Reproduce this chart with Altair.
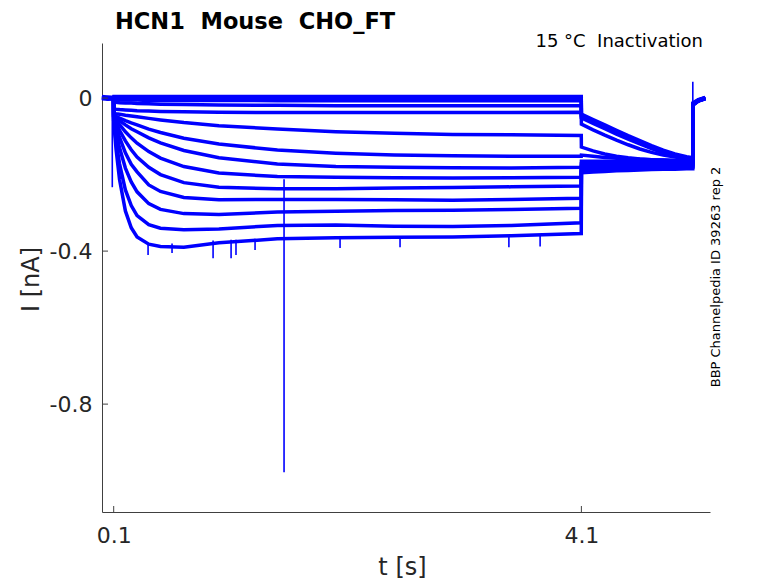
import altair as alt
import pandas as pd

# time base (s)
t_s = [0.0, 0.05, 0.099, 0.1, 0.12, 0.15, 0.2, 0.25, 0.3, 0.4, 0.5, 0.7, 1.0, 1.5,
       2.0, 2.5, 3.0, 3.5, 4.099, 4.1, 4.2, 4.3, 4.4, 4.5, 4.6, 4.7, 4.8, 4.9, 5.0,
       5.053, 5.054, 5.1, 5.16]

# current traces (nA)
I_01 = [0.004, 0.002, 0.003,
        0.004, 0.004, 0.004, 0.004, 0.004, 0.004, 0.004, 0.004, 0.004, 0.004, 0.004, 0.004, 0.004, 0.004, 0.004, 0.004,
        -0.042, -0.056, -0.07, -0.084, -0.098, -0.111, -0.124, -0.136, -0.146, -0.153, -0.156,
        -0.012, -0.004, 0.002]
I_02 = [0.001, 0.0, 0.0,
        0.0, 0.0, 0.0, 0.0, 0.0, 0.0, 0.0, 0.0, 0.0, 0.0, 0.0, 0.0, 0.0, 0.0, 0.0, 0.0,
        -0.045, -0.059, -0.073, -0.087, -0.101, -0.114, -0.127, -0.139, -0.149, -0.156, -0.159,
        -0.014, -0.006, 0.0]
I_03 = [0.0, -0.002, -0.001,
        -0.004, -0.004, -0.005, -0.005, -0.005, -0.005, -0.006, -0.006, -0.006, -0.006, -0.007, -0.007, -0.007, -0.007, -0.007, -0.007,
        -0.048, -0.062, -0.076, -0.09, -0.104, -0.117, -0.13, -0.141, -0.151, -0.157, -0.16,
        -0.016, -0.007, -0.001]
I_04 = [-0.001, -0.003, -0.002,
        -0.01, -0.011, -0.012, -0.013, -0.013, -0.014, -0.015, -0.016, -0.017, -0.018, -0.019, -0.02, -0.02, -0.02, -0.02, -0.02,
        -0.052, -0.066, -0.08, -0.094, -0.107, -0.12, -0.132, -0.143, -0.152, -0.158, -0.161,
        -0.018, -0.008, -0.002]
I_05 = [0.002, 0.001, 0.0,
        -0.028, -0.029, -0.03, -0.031, -0.032, -0.033, -0.034, -0.035, -0.036, -0.037, -0.038, -0.038, -0.038, -0.038, -0.038, -0.037,
        -0.068, -0.083, -0.097, -0.11, -0.122, -0.133, -0.142, -0.149, -0.154, -0.158, -0.16,
        -0.015, -0.005, 0.001]
I_06 = [0.0, 0.001, -0.001,
        -0.04, -0.041, -0.042, -0.045, -0.047, -0.049, -0.053, -0.057, -0.064, -0.072, -0.081, -0.088, -0.092, -0.095, -0.096, -0.098,
        -0.128, -0.138, -0.146, -0.152, -0.156, -0.159, -0.161, -0.162, -0.163, -0.163, -0.163,
        -0.016, -0.006, 0.0]
I_07 = [0.001, -0.001, 0.0,
        -0.045, -0.048, -0.052, -0.059, -0.065, -0.07, -0.081, -0.09, -0.105, -0.12, -0.136, -0.144, -0.149, -0.151, -0.152, -0.152,
        -0.149, -0.152, -0.155, -0.157, -0.159, -0.16, -0.161, -0.162, -0.163, -0.164, -0.164,
        -0.017, -0.007, -0.001]
I_08 = [-0.001, 0.0, 0.001,
        -0.047, -0.052, -0.059, -0.07, -0.08, -0.088, -0.104, -0.117, -0.137, -0.156, -0.172, -0.179, -0.181, -0.182, -0.183, -0.181,
        -0.165, -0.165, -0.165, -0.166, -0.166, -0.166, -0.166, -0.166, -0.166, -0.166, -0.166,
        -0.015, -0.006, 0.001]
I_09 = [0.0, 0.0, -0.002,
        -0.048, -0.057, -0.069, -0.088, -0.104, -0.118, -0.14, -0.157, -0.179, -0.196, -0.205, -0.207, -0.208, -0.209, -0.208, -0.207,
        -0.172, -0.172, -0.171, -0.171, -0.17, -0.17, -0.169, -0.169, -0.168, -0.168, -0.168,
        -0.016, -0.006, 0.0]
I_10 = [0.002, 0.0, 0.001,
        -0.05, -0.064, -0.084, -0.112, -0.135, -0.154, -0.181, -0.2, -0.221, -0.233, -0.237, -0.237, -0.235, -0.234, -0.232, -0.23,
        -0.178, -0.177, -0.177, -0.176, -0.175, -0.175, -0.174, -0.173, -0.173, -0.172, -0.172,
        -0.017, -0.007, -0.001]
I_11 = [0.0, 0.002, 0.0,
        -0.05, -0.073, -0.103, -0.143, -0.173, -0.193, -0.227, -0.244, -0.26, -0.266, -0.265, -0.265, -0.266, -0.267, -0.265, -0.262,
        -0.183, -0.182, -0.181, -0.18, -0.179, -0.178, -0.177, -0.177, -0.176, -0.175, -0.175,
        -0.016, -0.006, 0.0]
I_12 = [-0.001, 0.0, 0.0,
        -0.055, -0.088, -0.13, -0.183, -0.219, -0.245, -0.276, -0.291, -0.302, -0.304, -0.298, -0.296, -0.294, -0.293, -0.291, -0.288,
        -0.187, -0.186, -0.185, -0.184, -0.183, -0.182, -0.181, -0.18, -0.179, -0.178, -0.178,
        -0.018, -0.007, 0.0]
I_13 = [0.001, -0.001, 0.0,
        -0.06, -0.112, -0.172, -0.24, -0.281, -0.307, -0.331, -0.34, -0.344, -0.342, -0.333, -0.332, -0.335, -0.336, -0.333, -0.326,
        -0.191, -0.19, -0.188, -0.187, -0.186, -0.185, -0.184, -0.183, -0.182, -0.182, -0.181,
        -0.017, -0.006, 0.001]
I_14 = [0.0, 0.001, -0.001,
        -0.06, -0.133, -0.213, -0.295, -0.339, -0.363, -0.382, -0.388, -0.39, -0.378, -0.368, -0.365, -0.364, -0.363, -0.36, -0.354,
        -0.195, -0.193, -0.192, -0.19, -0.189, -0.188, -0.187, -0.186, -0.186, -0.185, -0.185,
        -0.018, -0.008, -0.001]

# isolated artefact / noise spikes (time, upper end, lower end)
spike_t = [0.088, 1.557, 5.053, 0.394, 0.599, 0.95, 1.104, 1.146, 1.309, 2.036, 2.549, 3.48, 3.747]
spike_hi = [0.0, -0.212, 0.043, -0.38, -0.38, -0.372, -0.37, -0.37, -0.368, -0.365, -0.364, -0.361, -0.359]
spike_lo = [-0.233, -0.978, -0.16, -0.41, -0.405, -0.419, -0.419, -0.41, -0.397, -0.392, -0.39, -0.39, -0.388]

x_ticks = [0.1, 4.1]
y_ticks = [0, -0.4, -0.8]

traces = [I_01, I_02, I_03, I_04, I_05, I_06, I_07, I_08, I_09, I_10, I_11, I_12, I_13, I_14]
rows = []
for k, vals in enumerate(traces):
    for t, v in zip(t_s, vals):
        rows.append({"trace": k + 1, "t": t, "I": v})
df = pd.DataFrame(rows)
df_spk = pd.DataFrame({"t": spike_t, "I": spike_hi, "I2": spike_lo})
df_xt = pd.DataFrame({"t": x_ticks})
df_yt = pd.DataFrame({"I": y_ticks})

W, H = 608, 469
BLUE = "#0000ff"
AX = "#404040"
TXT = "#262626"

xs = alt.Scale(domain=[0, 5.2], nice=False, zero=False)
ys = alt.Scale(domain=[-1.082, 0.144], nice=False, zero=False)

x_axis = alt.Axis(values=x_ticks, ticks=False, grid=False, domainColor=AX, domainWidth=1,
                  labelFont="DejaVu Sans", labelFontSize=22, labelColor=TXT, labelPadding=13,
                  format=".1f", title="t [s]", titleFont="DejaVu Sans", titleFontSize=24,
                  titleFontWeight="normal", titleColor=TXT, titleX=300, titleY=55,
                  titleBaseline="middle")
y_axis = alt.Axis(values=y_ticks, ticks=False, grid=False, domainColor=AX, domainWidth=1,
                  labelFont="DejaVu Sans", labelFontSize=22, labelColor=TXT, labelPadding=10,
                  labelExpr="datum.value == 0 ? '0' : '-' + format(abs(datum.value), '.1f')",
                  title="I [nA]", titleFont="DejaVu Sans", titleFontSize=24,
                  titleFontWeight="normal", titleColor=TXT, titleX=-71, titleY=236,
                  titleBaseline="middle")

X = alt.X("t:Q", scale=xs, axis=x_axis)
Y = alt.Y("I:Q", scale=ys, axis=y_axis)

lines = alt.Chart(df).mark_line(color=BLUE, strokeWidth=3.5, strokeJoin="miter").encode(
    x=X, y=Y, detail="trace:N",
)

spikes = alt.Chart(df_spk).mark_rule(color=BLUE, strokeWidth=1.6).encode(
    x=X, y=Y, y2="I2:Q",
)

xt = alt.Chart(df_xt).mark_rule(color=AX, strokeWidth=1).encode(
    x=X, y=alt.value(H), y2=alt.value(H - 6),
)
yt = alt.Chart(df_yt).mark_rule(color=AX, strokeWidth=1).encode(
    y=Y, x=alt.value(0), x2=alt.value(6),
)

title_txt = alt.Chart(pd.DataFrame({"s": ["HCN1\u00a0 Mouse\u00a0 CHO_FT"]})).mark_text(
    align="left", baseline="alphabetic", font="DejaVu Sans", fontSize=22.5,
    fontWeight="bold", color="#000000").encode(
    text="s:N", x=alt.value(13), y=alt.value(-14))

temp_txt = alt.Chart(pd.DataFrame({"s": ["15 °C\u00a0 Inactivation"]})).mark_text(
    align="right", baseline="alphabetic", font="DejaVu Sans", fontSize=18,
    color="#000000").encode(
    text="s:N", x=alt.value(601), y=alt.value(4))

id_txt = alt.Chart(pd.DataFrame({"s": ["BBP Channelpedia ID 39263 rep 2"]})).mark_text(
    align="center", baseline="middle", font="DejaVu Sans", fontSize=13, angle=270,
    color="#000000").encode(
    text="s:N", x=alt.value(614), y=alt.value(234))

chart = alt.layer(lines, spikes, xt, yt, title_txt, temp_txt, id_txt).properties(
    width=W, height=H,
    autosize=alt.AutoSizeParams(type="none"),
    padding={"left": 94, "top": 35, "right": 60, "bottom": 70},
).configure(font="DejaVu Sans").configure_view(stroke=None)

chart.save("out.html", embed_options={"renderer": "svg", "actions": False})
